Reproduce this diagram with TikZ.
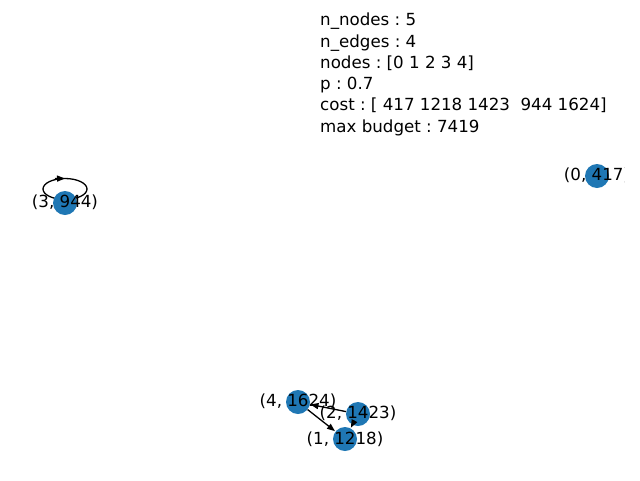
\documentclass[tikz,border=0pt]{standalone}
\usepackage{fontspec}
\setmainfont{DejaVu Sans}
\usetikzlibrary{arrows.meta}
\definecolor{nodeblue}{HTML}{1F77B4}
\tikzset{
  vtx/.style={circle,fill=nodeblue,minimum size=24pt,inner sep=0pt},
  lbl/.style={font=\fontsize{16.67}{20}\selectfont,inner sep=0pt},
  edge/.style={draw=black,line width=1.3pt,-{Triangle[length=8pt,width=6pt]},shorten >=0.5pt},
}
\frenchspacing
\begin{document}
\begin{tikzpicture}[x=1pt,y=-1pt]
\useasboundingbox (0,0) rectangle (640,480);
% self loop
\draw[line width=1.3pt] (65,189) ellipse [x radius=22, y radius=10.5];
\draw[line width=1.3pt,-{Triangle[length=8pt,width=6pt]}] (55,178.6) -- (65,178.5);
% nodes
\node[vtx] (n0) at (597,176) {};
\node[vtx] (n1) at (345,439) {};
\node[vtx] (n2) at (358,414) {};
\node[vtx] (n3) at (65,203) {};
\node[vtx] (n4) at (298,402) {};
% edges
\draw[edge] (n4) -- (n1);
\draw[edge] (n2) -- (n4);
\draw[edge] (n2) -- (n1);
% labels
\node[lbl] (l1) at (345,439) {(1, 1218)};
\node[lbl] (l2) at (358,413) {(2, 1423)};
\node[lbl] (l3) at (65,202) {(3, 944)};
\node[lbl] (l4) at (298,401) {(4, 1624)};
\begin{scope}
\clip (0,0) rectangle (624,480);
\node[lbl] (l0) at (597,175) {(0, 417)};
\end{scope}
\node[lbl,anchor=north west,align=left,font=\fontsize{16.67}{21.25}\selectfont] (info) at (320,13)
{n\_nodes : 5\\n\_edges : 4\\nodes : [0 1 2 3 4]\\p : 0.7\\cost : [ 417 1218 1423\ \ 944 1624]\\max budget : 7419};
\end{tikzpicture}
\end{document}
